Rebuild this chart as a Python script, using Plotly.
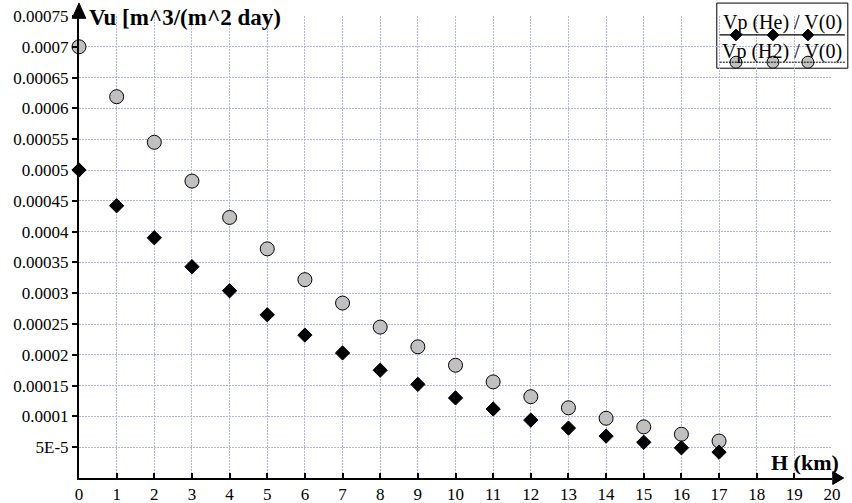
import plotly.graph_objects as go

H_km = list(range(0, 18))
vp_he = [0.0005, 0.000442, 0.000390, 0.000343, 0.000304, 0.000265, 0.000232, 0.000203,
         0.000175, 0.000152, 0.000130, 0.000112, 0.000094, 0.000081, 0.000068, 0.000058,
         0.000049, 0.000042]
vp_h2 = [0.0007, 0.000619, 0.000545, 0.000482, 0.000423, 0.000372, 0.000322, 0.000284,
         0.000245, 0.000213, 0.000183, 0.000156, 0.000132, 0.000114, 0.000097, 0.000083,
         0.000071, 0.000060]
y_tickvals = [0.00005, 0.0001, 0.00015, 0.0002, 0.00025, 0.0003, 0.00035, 0.0004,
              0.00045, 0.0005, 0.00055, 0.0006, 0.00065, 0.0007, 0.00075]
y_ticktext = ["5E-5", "0.0001", "0.00015", "0.0002", "0.00025", "0.0003", "0.00035",
              "0.0004", "0.00045", "0.0005", "0.00055", "0.0006", "0.00065", "0.0007", "0.00075"]
x_tickvals = list(range(0, 21))
legend_names = ["Vp (He) / V(0)", "Vp (H2) / V(0)"]

FONT = "Liberation Serif"
GRID = "#b4b4fa"

fig = go.Figure()
fig.add_trace(go.Scatter(x=H_km, y=vp_h2, mode="markers", cliponaxis=False,
                         marker=dict(symbol="circle", size=14, color="#c0c0c0",
                                     line=dict(color="black", width=1)),
                         showlegend=False))
fig.add_trace(go.Scatter(x=H_km, y=vp_he, mode="markers", cliponaxis=False,
                         marker=dict(symbol="diamond", size=11, color="black",
                                     line=dict(color="black", width=1)),
                         showlegend=False))

# legend sample markers on an overlay axis in paper-like units
lx = [0.8725, 0.9216, 0.968]
fig.add_trace(go.Scatter(x=lx, y=[0.959] * 3, xaxis="x2", yaxis="y2", mode="markers",
                         cliponaxis=False, showlegend=False, hoverinfo="skip",
                         marker=dict(symbol="diamond", size=9, color="black",
                                     line=dict(color="black", width=1))))
fig.add_trace(go.Scatter(x=lx, y=[0.900] * 3, xaxis="x2", yaxis="y2", mode="markers",
                         cliponaxis=False, showlegend=False, hoverinfo="skip",
                         marker=dict(symbol="circle", size=12, color="#c0c0c0",
                                     line=dict(color="black", width=1))))

shapes = [
    dict(type="rect", xref="paper", yref="paper", x0=0.847, x1=1.021, y0=0.887, y1=1.028,
         line=dict(color="black", width=1), fillcolor="white", layer="below"),
    dict(type="line", xref="paper", yref="paper", x0=0.851, x1=1.017, y0=0.959, y1=0.959,
         line=dict(color="black", width=1.2)),
    dict(type="line", xref="paper", yref="paper", x0=0.851, x1=1.017, y0=0.900, y1=0.900,
         line=dict(color="black", width=1, dash="2px,1px")),
    dict(type="line", xref="paper", yref="paper", x0=0, x1=0, y0=1, y1=1.02,
         line=dict(color="black", width=2)),
    dict(type="path", xref="paper", yref="paper",
         path="M -0.009 0.995 L 0.009 0.995 L 0 1.028 Z", fillcolor="black",
         line=dict(color="black", width=1)),
    dict(type="path", xref="paper", yref="paper",
         path="M 1.001 -0.014 L 1.001 0.014 L 1.0155 0 Z", fillcolor="black",
         line=dict(color="black", width=1)),
]

annotations = [
    dict(text="<b>Vu [m^3/(m^2 day)</b>", xref="paper", yref="paper", x=0.011, y=0.997,
         xanchor="left", yanchor="middle", showarrow=False,
         font=dict(family=FONT, size=23, color="black")),
    dict(text="<b>H (km)</b>", xref="paper", yref="paper", x=1.012, y=0.034,
         xanchor="right", yanchor="middle", showarrow=False,
         font=dict(family=FONT, size=22, color="black")),
    dict(text=legend_names[0], xref="paper", yref="paper", x=0.934, y=0.985,
         xanchor="center", yanchor="middle", showarrow=False,
         font=dict(family=FONT, size=20, color="black")),
    dict(text=legend_names[1], xref="paper", yref="paper", x=0.934, y=0.923,
         xanchor="center", yanchor="middle", showarrow=False,
         font=dict(family=FONT, size=20, color="black")),
]

fig.update_layout(
    width=852, height=503,
    margin=dict(l=79, r=20, t=16, b=25, autoexpand=False),
    paper_bgcolor="white", plot_bgcolor="white",
    font=dict(family=FONT, size=17, color="black"),
    xaxis=dict(range=[0, 20], tickvals=x_tickvals, ticktext=[str(v) for v in x_tickvals],
               showgrid=True, gridcolor=GRID, griddash="2px,1px", gridwidth=1,
               showline=True, linecolor="black", linewidth=2,
               ticks="inside", ticklen=5, tickwidth=2, tickcolor="black",
               zeroline=False, fixedrange=True, automargin=False,
               tickfont=dict(family=FONT, size=17, color="black")),
    yaxis=dict(range=[0, 0.00075], tickvals=y_tickvals, ticktext=y_ticktext,
               showgrid=True, gridcolor=GRID, griddash="2px,1px", gridwidth=1,
               showline=True, linecolor="black", linewidth=2,
               ticks="outside", ticklen=5, tickwidth=2, tickcolor="black",
               zeroline=False, fixedrange=True, automargin=False,
               tickfont=dict(family=FONT, size=17, color="black")),
    xaxis2=dict(range=[0, 1], overlaying="x", visible=False, fixedrange=True),
    yaxis2=dict(range=[0, 1], overlaying="y", visible=False, fixedrange=True),
    shapes=shapes, annotations=annotations,
)

fig.write_html("out.html", config={"displayModeBar": False},
               post_script="document.body.style.margin='0';")
